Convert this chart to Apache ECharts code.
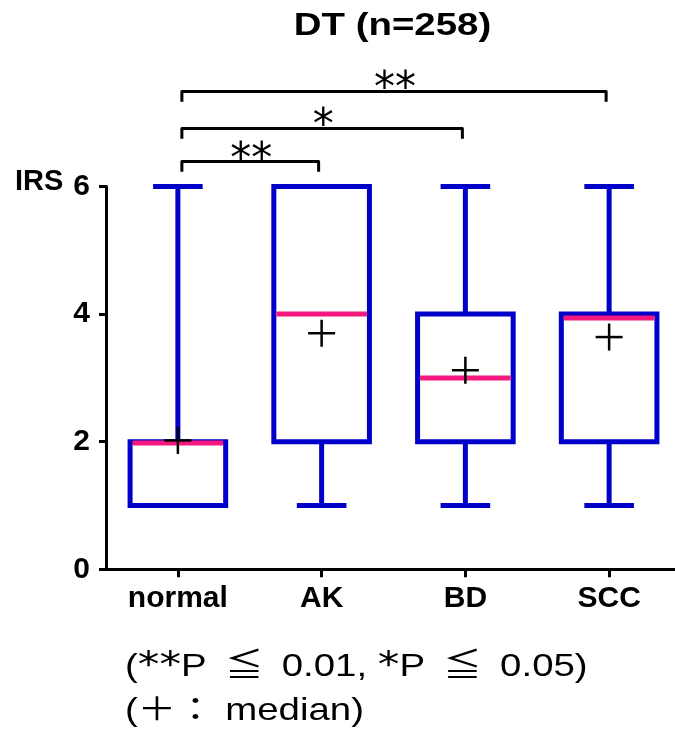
<!DOCTYPE html>
<html>
<head>
<meta charset="utf-8">
<script src="https://cdn.jsdelivr.net/npm/echarts@6/dist/echarts.min.js"></script>
<style>html,body{margin:0;padding:0;background:#fff}#c{width:675px;height:740px}</style>
</head>
<body>
<div id="c"></div>
<script>
// ---- data ----
var categories = ['normal', 'AK', 'BD', 'SCC'];
var minValues = [1, 1, 1, 1];
var q1Values = [1, 2, 2, 2];
var lineValues = [1.98, 4.0, 3.0, 3.94];   // pink bar inside box
var q3Values = [2, 6, 4, 4];
var maxValues = [6, 6, 6, 6];
var plusValues = [2.02, 3.70, 3.12, 3.64]; // "+" marks
var yTicks = [0, 2, 4, 6];
var comparisons = [
  { from: 0, to: 1, label: '**' },
  { from: 0, to: 2, label: '*' },
  { from: 0, to: 3, label: '**' }
];
var titleText = 'DT (n=258)';
var yName = 'IRS';

// ---- styles ----
var BLUE = '#0000c8';
var PINK = '#f5197f';
var FONT = '"Liberation Sans", Arial, "Noto Sans CJK JP", sans-serif';
var bracketLevels = [6.39, 6.91, 7.49];
var bracketDrop = 0.16;

var boxData = categories.map(function (c, i) {
  return [i, minValues[i], q1Values[i], lineValues[i], q3Values[i], maxValues[i], plusValues[i]];
});
var bracketData = comparisons.map(function (c, i) { return [c.from, c.to, i]; });

var chart = echarts.init(document.getElementById('c'), null, { renderer: 'canvas' });

function renderBox(params, api) {
  var idx = api.value(0);
  var band = api.size([1, 0])[0];
  var bw = band * 0.665;
  var cw = band * 0.345;
  var pMin = api.coord([idx, api.value(1)]);
  var pQ1 = api.coord([idx, api.value(2)]);
  var pMed = api.coord([idx, api.value(3)]);
  var pQ3 = api.coord([idx, api.value(4)]);
  var pMax = api.coord([idx, api.value(5)]);
  var pPlus = api.coord([idx, api.value(6)]);
  var x = pQ1[0];
  var lw = 5;
  var stroke = { stroke: BLUE, lineWidth: lw, fill: null };
  var children = [];
  if (pMax[1] < pQ3[1]) {
    children.push({ type: 'line', shape: { x1: x, y1: pQ3[1], x2: x, y2: pMax[1] }, style: stroke });
  }
  if (pMin[1] > pQ1[1]) {
    children.push({ type: 'line', shape: { x1: x, y1: pQ1[1], x2: x, y2: pMin[1] }, style: stroke });
  }
  children.push({ type: 'line', shape: { x1: x - cw / 2, y1: pMax[1], x2: x + cw / 2, y2: pMax[1] }, style: stroke });
  children.push({ type: 'line', shape: { x1: x - cw / 2, y1: pMin[1], x2: x + cw / 2, y2: pMin[1] }, style: stroke });
  children.push({ type: 'rect', shape: { x: x - bw / 2, y: pQ3[1], width: bw, height: pQ1[1] - pQ3[1] }, style: { stroke: BLUE, lineWidth: lw, fill: 'rgba(0,0,0,0)', lineJoin: 'miter' } });
  children.push({ type: 'line', shape: { x1: x - bw / 2 + lw / 2, y1: pMed[1], x2: x + bw / 2 - lw / 2, y2: pMed[1] }, style: { stroke: PINK, lineWidth: 5 } });
  var ps = 13.5;
  children.push({ type: 'line', shape: { x1: pPlus[0] - ps, y1: pPlus[1], x2: pPlus[0] + ps, y2: pPlus[1] }, style: { stroke: '#000', lineWidth: 2.5 } });
  children.push({ type: 'line', shape: { x1: pPlus[0], y1: pPlus[1] - ps, x2: pPlus[0], y2: pPlus[1] + ps }, style: { stroke: '#000', lineWidth: 2.5 } });
  return { type: 'group', children: children };
}

function renderBracket(params, api) {
  var a = api.value(0), b = api.value(1), k = api.value(2);
  var lvl = bracketLevels[k];
  var p1 = api.coord([a, lvl]);
  var p2 = api.coord([b, lvl]);
  var d1 = api.coord([a, lvl - bracketDrop]);
  var xl = p1[0] + 4, xr = p2[0] - 3;
  var st = { stroke: '#000', lineWidth: 3, fill: null, lineJoin: 'round' };
  return {
    type: 'group',
    children: [
      { type: 'polyline', shape: { points: [[xl, d1[1]], [xl, p1[1]], [xr, p2[1]], [xr, d1[1]]] }, style: st },
      { type: 'text', x: (xl + xr) / 2 + 1, y: p1[1] + 20, style: { text: comparisons[k].label, fill: '#000', font: '42px "DejaVu Sans"', textAlign: 'center', textVerticalAlign: 'bottom' } }
    ]
  };
}

var noteRich = {
  a: { fontFamily: FONT, fontSize: 32, color: '#000' },
  s: { fontFamily: '"DejaVu Sans"', fontSize: 36, color: '#000' }
};

chart.setOption({
  animation: false,
  backgroundColor: '#fff',
  grid: { left: 106, top: 186.5, width: 575, height: 382.8, outerBoundsMode: 'none', containLabel: false },
  xAxis: {
    type: 'category',
    data: categories,
    boundaryGap: true,
    axisLine: { show: true, lineStyle: { color: '#000', width: 3 } },
    axisTick: { show: true, alignWithLabel: true, length: 8, lineStyle: { color: '#000', width: 3 } },
    axisLabel: { color: '#000', fontFamily: FONT, fontWeight: 'bold', fontSize: 30, margin: 14 },
    splitLine: { show: false }
  },
  yAxis: {
    type: 'value',
    min: yTicks[0],
    max: yTicks[yTicks.length - 1],
    interval: yTicks[1] - yTicks[0],
    axisLine: { show: true, lineStyle: { color: '#000', width: 3 } },
    axisTick: { show: true, length: 7, lineStyle: { color: '#000', width: 3 } },
    axisLabel: { color: '#000', fontFamily: FONT, fontWeight: 'bold', fontSize: 30, margin: 16 },
    splitLine: { show: false }
  },
  graphic: [
    { type: 'text', x: 392.5, y: 26, scaleX: 1.2, style: { text: titleText, fill: '#000', font: 'bold 32px ' + FONT, textAlign: 'center', textVerticalAlign: 'middle' } },
    { type: 'text', x: 15, y: 182, style: { text: yName, fill: '#000', font: 'bold 29px ' + FONT, textAlign: 'left', textVerticalAlign: 'middle' } },
    { type: 'text', x: 125, y: 667, scaleX: 1.2, style: { text: '{a|(}{s|**}{a|P \u2009\u2266\u2009 0.01, }{s|*}{a|P \u2009\u2266\u2009 0.05)}', rich: noteRich, textAlign: 'left', textVerticalAlign: 'middle' } },
    { type: 'text', x: 125, y: 711, scaleX: 1.2, style: { text: '(\uff0b\uff1a median)', fill: '#000', font: '32px ' + FONT, textAlign: 'left', textVerticalAlign: 'middle' } }
  ],
  series: [
    {
      type: 'custom',
      renderItem: renderBox,
      data: boxData,
      encode: { x: 0, y: [1, 2, 3, 4, 5, 6] },
      clip: false,
      z: 3
    },
    {
      type: 'custom',
      renderItem: renderBracket,
      data: bracketData,
      encode: { x: [0, 1] },
      clip: false,
      z: 4
    }
  ]
});
</script>
</body>
</html>
